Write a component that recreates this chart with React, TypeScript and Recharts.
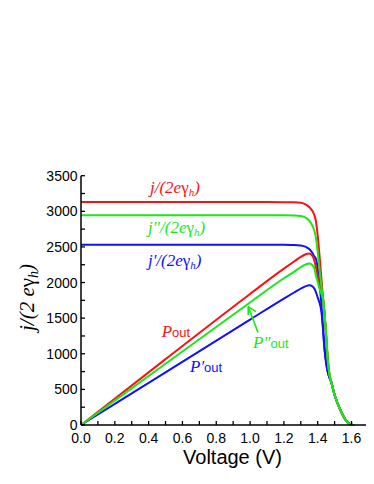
import React from "react";
import { LineChart, Line, XAxis, YAxis, ReferenceLine } from "recharts";

const voltage = [0, 0.5, 1.0, 1.2, 1.26, 1.3, 1.33, 1.35, 1.37, 1.38, 1.39, 1.4, 1.41, 1.42, 1.43, 1.44, 1.45, 1.46, 1.47, 1.48, 1.5, 1.52, 1.54, 1.56, 1.58, 1.6, 1.62];
const redJ = [3130, 3130, 3130, 3129, 3127, 3120, 3095, 3060, 3000, 2950, 2854, 2660, 2400, 2110, 1830, 1570, 1255, 900, 700, 605, 420, 290, 180, 90, 30, 5, 0];
const greenJ = [2945, 2945, 2945, 2944, 2942, 2935, 2910, 2870, 2790, 2730, 2620, 2430, 2200, 1990, 1790, 1572, 1257, 902, 702, 606, 421, 291, 181, 91, 31, 5, 0];
const blueJ = [2530, 2530, 2530, 2529, 2528, 2520, 2500, 2470, 2410, 2365, 2330, 2200, 2000, 1750, 1400, 1080, 870, 740, 660, 603, 419, 289, 179, 89, 29, 5, 0];
const redP = [0, 925, 1840, 2195, 2295, 2360, 2398, 2408, 2370, 2310, 2210, 2090, 1960, 1870, 1800, 1570, 1255, 900, 700, 605, 420, 290, 180, 90, 30, 5, 0];
const greenP = [0, 860, 1720, 2060, 2150, 2215, 2255, 2268, 2240, 2200, 2090, 2010, 1920, 1850, 1790, 1572, 1257, 902, 702, 606, 421, 291, 181, 91, 31, 5, 0];
const blueP = [0, 740, 1480, 1775, 1860, 1915, 1950, 1963, 1945, 1915, 1860, 1790, 1720, 1620, 1400, 1080, 870, 740, 660, 603, 419, 289, 179, 89, 29, 5, 0];

const xTicks = [0, 0.1, 0.2, 0.3, 0.4, 0.5, 0.6, 0.7, 0.8, 0.9, 1.0, 1.1, 1.2, 1.3, 1.4, 1.5, 1.6, 1.7];
const yTicks = [0, 250, 500, 750, 1000, 1250, 1500, 1750, 2000, 2250, 2500, 2750, 3000, 3250, 3500];

const arrowShaft = [{ x: 1.047, y: 1299 }, { x: 0.989, y: 1661 }];
const arrowWingA = [{ x: 0.989, y: 1661 }, { x: 0.989, y: 1544 }];
const arrowWingB = [{ x: 0.989, y: 1661 }, { x: 1.035, y: 1591 }];

const data = voltage.map((v, i) => ({
  v,
  redJ: redJ[i],
  greenJ: greenJ[i],
  blueJ: blueJ[i],
  redP: redP[i],
  greenP: greenP[i],
  blueP: blueP[i],
}));

const RED = "#ff1010";
const GREEN = "#18e818";
const BLUE = "#1010ff";
const SANS = "'Liberation Sans', Arial, sans-serif";
const SERIF = "'Liberation Serif', 'Times New Roman', serif";

const XTickBottom = (props: any) => {
  const { x, y, payload } = props;
  const v = payload.value;
  const major = Math.round(v * 10) % 2 === 0;
  return (
    <g>
      <line x1={x} x2={x} y1={y} y2={y - 4} stroke="#000" strokeWidth={1.3} />
      {major && (
        <text x={x} y={y + 17.7} textAnchor="middle" fontSize={14} fontFamily={SANS} fill="#000">
          {v.toFixed(1)}
        </text>
      )}
    </g>
  );
};

const XTickTop = (props: any) => {
  const { x, y } = props;
  return <line x1={x} x2={x} y1={y} y2={y + 4} stroke="#000" strokeWidth={1.3} />;
};

const YTickLeft = (props: any) => {
  const { x, y, payload } = props;
  const v = payload.value;
  const major = v % 500 === 0;
  return (
    <g>
      <line x1={x} x2={x + 4} y1={y} y2={y} stroke="#000" strokeWidth={1.3} />
      {major && (
        <text x={x - 3.5} y={y + 5} textAnchor="end" fontSize={14} fontFamily={SANS} fill="#000">
          {v}
        </text>
      )}
    </g>
  );
};

const JLabel = ({ x, y, color, prime }: { x: number; y: number; color: string; prime: string }) => (
  <text x={x} y={y} fill={color} fontFamily={SERIF} fontSize={17}>
    <tspan fontStyle="italic">{"j" + prime + "/(2e"}</tspan>
    <tspan>γ</tspan>
    <tspan fontStyle="italic" fontSize={11} dy={3}>h</tspan>
    <tspan fontStyle="italic" dy={-3}>)</tspan>
  </text>
);

const PLabel = ({ x, y, color, prime }: { x: number; y: number; color: string; prime: string }) => (
  <text x={x} y={y} fill={color}>
    <tspan fontFamily={SERIF} fontStyle="italic" fontSize={17}>{"P" + prime}</tspan>
    <tspan fontFamily={SANS} fontSize={13}>out</tspan>
  </text>
);

export default function App() {
  return (
    <LineChart
      width={366}
      height={476}
      data={data}
      margin={{ top: 167.7, right: 0, bottom: 29, left: 0 }}
    >
      <XAxis
        dataKey="v"
        type="number"
        domain={[0, 1.733]}
        ticks={xTicks}
        interval={0}
        tickSize={0}
        tickMargin={0}
        tickLine={false}
        tick={<XTickBottom />}
        height={30}
        axisLine={{ stroke: "#000", strokeWidth: 1.5 }}
      />
      <XAxis
        xAxisId="top"
        orientation="top"
        dataKey="v"
        type="number"
        domain={[0, 1.733]}
        ticks={xTicks}
        interval={0}
        tickSize={0}
        tickMargin={0}
        tickLine={false}
        tick={<XTickTop />}
        height={0}
        axisLine={{ stroke: "#000", strokeWidth: 1.5 }}
      />
      <YAxis
        type="number"
        domain={[0, 3500]}
        ticks={yTicks}
        interval={0}
        tickSize={0}
        tickMargin={0}
        tickLine={false}
        tick={<YTickLeft />}
        width={73}
        axisLine={{ stroke: "#000", strokeWidth: 1.5 }}
      />
      <Line type="monotone" dataKey="redJ" stroke={RED} strokeWidth={2} dot={false} isAnimationActive={false} />
      <Line type="monotone" dataKey="blueJ" stroke={BLUE} strokeWidth={2} dot={false} isAnimationActive={false} />
      <Line type="monotone" dataKey="blueP" stroke={BLUE} strokeWidth={2} dot={false} isAnimationActive={false} />
      <Line type="monotone" dataKey="redP" stroke={RED} strokeWidth={2} dot={false} isAnimationActive={false} />
      <Line type="monotone" dataKey="greenJ" stroke={GREEN} strokeWidth={2} dot={false} isAnimationActive={false} />
      <Line type="monotone" dataKey="greenP" stroke={GREEN} strokeWidth={2} dot={false} isAnimationActive={false} />
      <ReferenceLine segment={arrowShaft} stroke={GREEN} strokeWidth={1.6} />
      <ReferenceLine segment={arrowWingA} stroke={GREEN} strokeWidth={1.6} />
      <ReferenceLine segment={arrowWingB} stroke={GREEN} strokeWidth={1.6} />
      <JLabel x={142} y={184.5} color={RED} prime="" />
      <JLabel x={140} y={224.5} color={GREEN} prime="''" />
      <JLabel x={140} y={258} color={BLUE} prime="'" />
      <PLabel x={153.7} y={329.3} color={RED} prime="" />
      <PLabel x={182} y={364.3} color={BLUE} prime="′" />
      <PLabel x={245} y={339.7} color={GREEN} prime="″" />
      <text x={224.5} y={455.5} textAnchor="middle" fontSize={20} fontFamily={SANS} fill="#000">
        Voltage (V)
      </text>
      <text
        x={25.7}
        y={289.5}
        transform="rotate(-90 25.7 289.5)"
        textAnchor="middle"
        fontFamily={SERIF}
        fontSize={21}
        fill="#000"
      >
        <tspan fontStyle="italic">j/(2 e</tspan>
        <tspan>γ</tspan>
        <tspan fontStyle="italic" fontSize={14} dy={4}>h</tspan>
        <tspan fontStyle="italic" dy={-4}>)</tspan>
      </text>
    </LineChart>
  );
}
